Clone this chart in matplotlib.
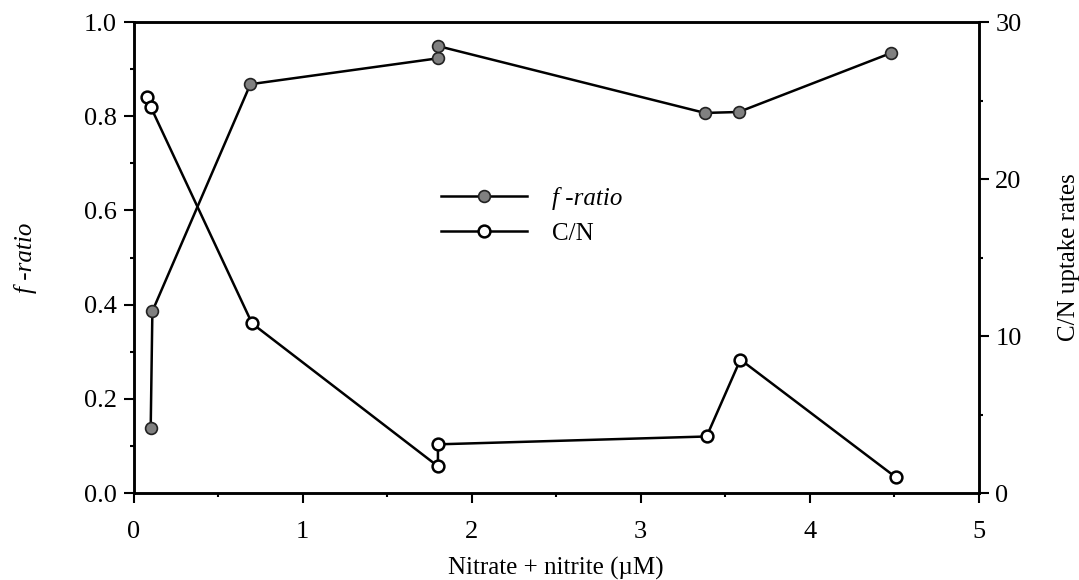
import matplotlib
matplotlib.use("Agg")
import matplotlib.pyplot as plt
from matplotlib.ticker import MultipleLocator

plt.rcParams["font.family"] = ["Liberation Serif", "DejaVu Serif"]

# f-ratio (filled symbols), in line order
f_x = [0.10, 0.11, 0.69, 1.80, 1.80, 3.38, 3.58, 4.48]
f_ratio = [0.138, 0.386, 0.868, 0.923, 0.949, 0.807, 0.809, 0.934]

# C/N uptake rates (open symbols), in line order
cn_x = [0.08, 0.10, 0.70, 1.80, 1.80, 3.39, 3.59, 4.51]
cn_ratio = [25.2, 24.6, 10.8, 1.7, 3.1, 3.6, 8.5, 1.0]

fig = plt.figure(figsize=(10.79, 5.80), dpi=100)
ax = fig.add_axes([0.124, 0.150, 0.783, 0.812])
ax2 = ax.twinx()

tick_fs = 19
label_fs = 18
l1, = ax.plot(f_x, f_ratio, "-o", color="black", lw=1.8, ms=8.5,
              mfc="#808080", mec="#222222", mew=1.2, label="f -ratio")
l2, = ax2.plot(cn_x, cn_ratio, "-o", color="black", lw=1.8, ms=8.5,
               mfc="white", mec="black", mew=1.8, label="C/N")

ax.set_xlim(0, 5)
ax.set_ylim(0, 1.0)
ax2.set_ylim(0, 30)

ax.xaxis.set_major_locator(MultipleLocator(1))
ax.xaxis.set_minor_locator(MultipleLocator(0.5))
ax.yaxis.set_major_locator(MultipleLocator(0.2))
ax.yaxis.set_minor_locator(MultipleLocator(0.1))
ax2.yaxis.set_major_locator(MultipleLocator(10))
ax2.yaxis.set_minor_locator(MultipleLocator(5))
ax.yaxis.set_major_formatter(plt.FormatStrFormatter("%.1f"))

for a in (ax, ax2):
    a.tick_params(which="major", direction="out", length=7, width=1.5,
                  labelsize=tick_fs, pad=5)
    a.tick_params(which="minor", direction="out", length=3, width=1.5)
    for s in a.spines.values():
        s.set_linewidth(1.8)
ax.tick_params(axis="x", which="both", top=False)
ax.tick_params(axis="x", which="major", pad=13)

ax.set_xlabel("Nitrate + nitrite (\u00b5M)", fontsize=label_fs, labelpad=10)
ax.set_ylabel("f -ratio", fontsize=label_fs, style="italic", labelpad=34)
ax2.set_ylabel("C/N uptake rates", fontsize=label_fs, labelpad=26)

leg = ax.legend([l1, l2], ["f -ratio", "C/N"], frameon=False, fontsize=label_fs,
                loc="center left", bbox_to_anchor=(0.337, 0.588),
                handlelength=3.45, labelspacing=0.5, handletextpad=1.0)
leg.get_texts()[0].set_style("italic")

fig.savefig("out.png", dpi=100)
